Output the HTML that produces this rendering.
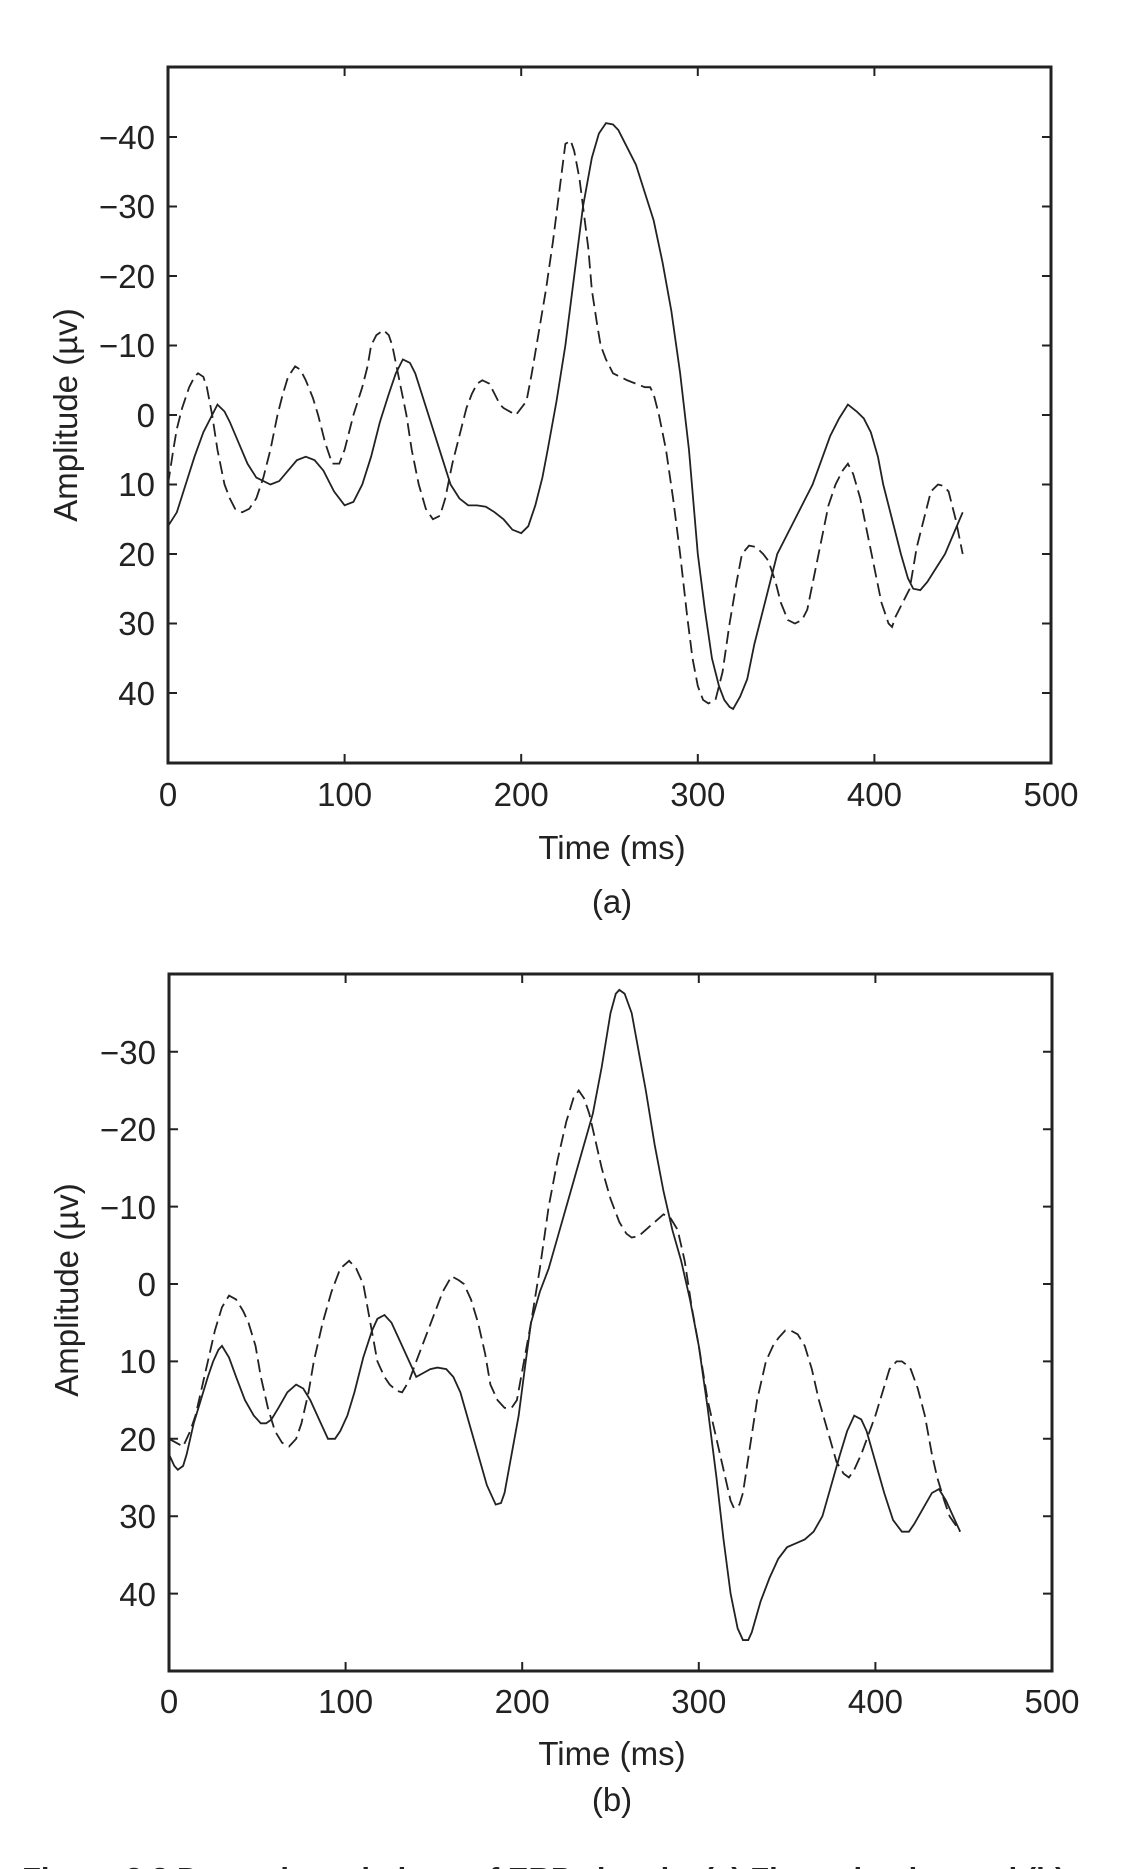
<!DOCTYPE html>
<html><head><meta charset="utf-8"><style>
html,body{margin:0;padding:0;background:#fff;}
body{width:1130px;height:1869px;overflow:hidden;position:relative;}
svg{position:absolute;left:0;top:0;}
text{font-family:"Liberation Sans",sans-serif;fill:#222;}
</style></head><body>
<svg width="1130" height="1869" viewBox="0 0 1130 1869">
<g stroke="#222" fill="none">
<rect x="168" y="67" width="883" height="696" stroke-width="3"/>
<path stroke-width="2" d="M168,763v-9M344.6,763v-9M521.2,763v-9M697.8,763v-9M874.4,763v-9M1051,763v-9
M344.6,67v9M521.2,67v9M697.8,67v9M874.4,67v9"/>
<path stroke-width="2" d="M168,137h9M168,206.5h9M168,276h9M168,345.5h9M168,415h9M168,484.5h9M168,554h9M168,623.5h9M168,693h9
M1051,137h-9M1051,206.5h-9M1051,276h-9M1051,345.5h-9M1051,415h-9M1051,484.5h-9M1051,554h-9M1051,623.5h-9M1051,693h-9"/>
</g>
<g font-size="33" text-anchor="end">
<text x="155" y="149">−40</text><text x="155" y="218">−30</text><text x="155" y="288">−20</text>
<text x="155" y="357">−10</text><text x="155" y="427">0</text><text x="155" y="496">10</text>
<text x="155" y="566">20</text><text x="155" y="635">30</text><text x="155" y="705">40</text>
</g>
<g font-size="33" text-anchor="middle">
<text x="168" y="806">0</text><text x="344.6" y="806">100</text><text x="521.2" y="806">200</text>
<text x="697.8" y="806">300</text><text x="874.4" y="806">400</text><text x="1051" y="806">500</text>
<text x="612" y="859">Time (ms)</text>
<text x="612" y="913">(a)</text>
<text transform="translate(77,415) rotate(-90)">Amplitude (µv)</text>
</g>
<g transform="translate(168,415) scale(1.766,6.95)" fill="none" stroke="#222">
<polyline vector-effect="non-scaling-stroke" stroke-width="1.8" points="0,16 5,14 10,10 15,6 20,2.5 25,0 28,-1.5 32,-0.5 35,1 40,4 45,7 50,9 58,10 63,9.5 68,8 73,6.5 78,6 83,6.5 88,8 94,11 100,13 105,12.5 110,10 115,6 120,1 125,-3 129,-6 133,-8 137,-7.5 140,-6 145,-2 150,2 155,6 160,10 165,12 170,13 175,13 180,13.2 185,14 190,15 195,16.5 200,17 204,16 208,13 212,9 215,5 220,-2 225,-10 230,-20 235,-30 240,-37 244,-40.5 248,-42 252,-41.8 255,-41 260,-38.5 265,-36 270,-32 275,-28 280,-22 285,-15 290,-6 295,5 300,20 304,28 308,35 312,39 315,41 318,42 320,42.3 324,40.5 328,38 332,33 335,30 340,25 345,20 350,17.5 355,15 360,12.5 365,10 370,6.5 375,3 380,0.5 385,-1.5 390,-0.5 394,0.5 398,2.5 402,6 405,10 410,15 415,20 419,23.5 422,25 426,25.2 430,24 435,22 440,20 445,17 450,14"/>
<polyline vector-effect="non-scaling-stroke" stroke-width="1.8" stroke-dasharray="13 6" points="0,10 3,5 5,2 8,-1 12,-4 15,-5.5 17,-6 20,-5.5 22,-4 25,0 28,5 32,10 35,12 38,13.5 42,14 46,13.5 50,12 54,9 58,5 62,0 65,-3 68,-5.5 72,-7 75,-6.5 78,-5 82,-2.5 85,0 89,4 93,7 97,7 100,5 105,0 110,-4 113,-7 115,-10 118,-11.5 122,-12.2 125,-11.5 127,-10 131,-5 135,0 138,5 142,10 146,13.5 150,15 154,14.5 157,12 161,7 165,3 169,-1 172,-3 175,-4.5 178,-5 182,-4.5 185,-3 188,-1.5 190,-1 197,0 200,-1 203,-2 206,-6 210,-12 214,-18 218,-25 222,-33 225,-39 228,-39.5 230,-38 233,-34 235,-30 238,-24 240,-18 243,-13 245,-10 248,-8 252,-6 256,-5.5 260,-5 265,-4.5 270,-4 273,-4 275,-3 278,0 282,5 286,12 290,20 294,29 297,35 300,39 303,41 306,41.5 310,41 314,37 318,30 322,24 325,20 329,18.8 333,19 337,20 340,21 344,24 347,27 351,29.5 355,30 359,29.5 362,28 366,23 370,18 374,13 378,10 382,8 385,7 388,8.5 392,12 396,17 400,22 404,27 408,30 410,30.5 412,29 416,27 420,25 424,19 428,15 432,11 436,10 439,10.2 442,11 446,15 450,20"/>
</g>

<g stroke="#222" fill="none">
<rect x="169" y="974" width="883" height="697" stroke-width="3"/>
<path stroke-width="2" d="M169,1671v-9M345.6,1671v-9M522.2,1671v-9M698.8,1671v-9M875.4,1671v-9M1052,1671v-9
M345.6,974v9M522.2,974v9M698.8,974v9M875.4,974v9"/>
<path stroke-width="2" d="M169,1051.8h9M169,1129.2h9M169,1206.6h9M169,1284h9M169,1361.4h9M169,1438.8h9M169,1516.2h9M169,1593.6h9
M1052,1051.8h-9M1052,1129.2h-9M1052,1206.6h-9M1052,1284h-9M1052,1361.4h-9M1052,1438.8h-9M1052,1516.2h-9M1052,1593.6h-9"/>
</g>
<g font-size="33" text-anchor="end">
<text x="156" y="1064">−30</text><text x="156" y="1141">−20</text><text x="156" y="1219">−10</text>
<text x="156" y="1296">0</text><text x="156" y="1373">10</text><text x="156" y="1451">20</text>
<text x="156" y="1528">30</text><text x="156" y="1606">40</text>
</g>
<g font-size="33" text-anchor="middle">
<text x="169" y="1713">0</text><text x="345.6" y="1713">100</text><text x="522.2" y="1713">200</text>
<text x="698.8" y="1713">300</text><text x="875.4" y="1713">400</text><text x="1052" y="1713">500</text>
<text x="612" y="1765">Time (ms)</text>
<text x="612" y="1811">(b)</text>
<text transform="translate(78,1290) rotate(-90)">Amplitude (µv)</text>
</g>
<g transform="translate(169,1284) scale(1.766,7.74)" fill="none" stroke="#222">
<polyline vector-effect="non-scaling-stroke" stroke-width="1.8" points="0,22 3,23.5 5,24 8,23.5 10,22 14,18 18,15 22,12 25,10 28,8.5 30,8 34,9.5 38,12 43,15 48,17 52,18 55,18 58,17.5 62,16 67,14 72,13 76,13.5 80,15 85,17.5 90,20 94,20 97,19 101,17 105,14 110,9.5 115,6 118,4.5 122,4 126,5 130,7 135,9.5 140,12 144,11.5 148,11 152,10.8 157,11 161,12 165,14 170,18 175,22 180,26 185,28.5 188,28.3 190,27 194,22 198,17 202,10 205,5 210,1 215,-2 220,-6 225,-10 230,-14 235,-18 240,-22 245,-28 250,-35 253,-37.5 255,-38 258,-37.5 262,-35 266,-30 270,-25 275,-18 280,-12 285,-7 290,-3 295,2 300,8 305,16 310,25 314,33 318,40 322,44.5 325,46 328,46 330,45 335,41 340,38 345,35.5 350,34 355,33.5 360,33 365,32 370,30 375,26 380,22 384,19 388,17 392,17.5 395,19 400,23 405,27 410,30.5 415,32 419,32 422,31 427,29 432,27 436,26.5 440,28 444,30 448,32"/>
<polyline vector-effect="non-scaling-stroke" stroke-width="1.8" stroke-dasharray="13 6" points="0,20 4,20.5 8,21 12,19 15,17 19,13 22,10 26,6 30,3 34,1.5 38,2 42,3.5 45,5 49,8 52,12 56,16 60,19 64,20.5 68,21 72,20 75,18 79,14 82,10 87,5 92,1 97,-2 102,-3 106,-2 110,0 114,5 118,10 122,12 125,13 129,13.8 132,14 136,12.5 140,10 145,7 150,4 155,1 160,-1 164,-0.5 167,0 171,2 175,5 179,9 182,13 186,15 190,16 194,16 197,15 201,10 205,5 210,-2 215,-10 220,-16 225,-21 229,-24 232,-25 235,-24 238,-22 242,-18 245,-15 250,-11 255,-8 259,-6.5 262,-6 266,-6.2 270,-7 275,-8 280,-9 284,-8.5 288,-7 292,-3 296,3 300,8 305,15 310,20 315,25 318,28 320,29 323,28.5 325,27 329,21 333,15 338,10 342,8 345,7 349,6 352,6 356,6.5 360,8 364,11 368,15 373,19 378,23 382,24.5 385,25 388,24 392,22 396,19.5 400,17 404,14 408,11 412,10 415,10 418,10.5 420,11 424,13.5 428,17 432,22 435,25 439,28 442,30 445,31 448,32"/>
</g>

<text x="22" y="1889" font-size="31" font-weight="bold">Figure 3.8   Dynamic variations of ERP signals. (a) First stimulus and (b) second stimulus</text>
</svg>
</body></html>
